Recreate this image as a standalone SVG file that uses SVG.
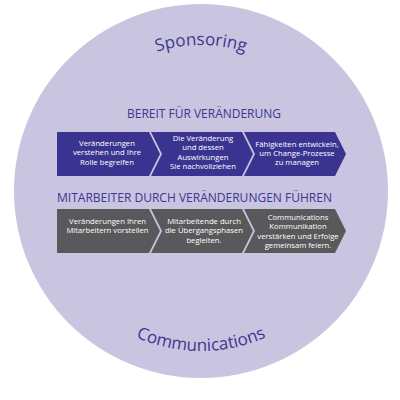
<svg xmlns="http://www.w3.org/2000/svg" width="400" height="400" viewBox="0 0 400 400">
<style>
.arc{font-family:"Open Sans","Noto Sans",sans-serif;font-size:17px;fill:#3c3790}
.ttl{font-family:"Open Sans","Noto Sans",sans-serif;font-size:12.5px;fill:#3c3790}
.lbl{font-family:"Open Sans","Noto Sans",sans-serif;font-size:7.7px;fill:#ffffff;text-anchor:middle}
.blue{fill:#3a3390}
.gray{fill:#59585b}
</style>
<defs>
<path id="topArc" d="M55,191 A146,146 0 0 1 347,191"/>
<path id="botArc" d="M41,191 A160,160 0 0 0 361,191"/>
</defs>
<circle cx="201" cy="191" r="187" fill="#c9c4df"/>
<text class="arc"><textPath href="#topArc" startOffset="50%" text-anchor="middle">Sponsoring</textPath></text>
<text class="arc"><textPath href="#botArc" startOffset="50%" text-anchor="middle">Communications</textPath></text>
<text class="ttl" x="204" y="118" text-anchor="middle" textLength="154" lengthAdjust="spacingAndGlyphs">BEREIT FÜR VERÄNDERUNG</text>
<text class="ttl" x="57" y="202" textLength="275" lengthAdjust="spacingAndGlyphs">MITARBEITER DURCH VERÄNDERUNGEN FÜHREN</text>
<g id="connectors"></g>
<g id="r1c1">
<polygon class="blue" points="57,132 149,132 160,154 149,176 57,176"/>
<text class="lbl"><tspan x="107" y="146">Veränderungen</tspan><tspan x="107" y="155.3">verstehen und Ihre</tspan><tspan x="107" y="164.6">Rolle begreifen</tspan></text>
</g>
<g id="r1c2">
<polygon class="blue" points="151,132 242,132 253,154 242,176 151,176 162,154"/>
<text class="lbl"><tspan x="203" y="141">Die Veränderung</tspan><tspan x="203" y="150.3">und dessen</tspan><tspan x="203" y="159.6">Auswirkungen</tspan><tspan x="203" y="168.9">Sie nachvollziehen</tspan></text>
</g>
<g id="r1c3">
<polygon class="blue" points="244,132 335,132 346,154 335,176 244,176 255,154"/>
<text class="lbl"><tspan x="297" y="146.7">Fähigkeiten entwickeln,</tspan><tspan x="297" y="156">um Change-Prozesse</tspan><tspan x="297" y="165.3">zu managen</tspan></text>
</g>
<g id="r2c1">
<polygon class="gray" points="57,209 149,209 160,231 149,253 57,253"/>
<text class="lbl"><tspan x="107.5" y="224">Veränderungen Ihren</tspan><tspan x="107.5" y="233.3">Mitarbeitern vorstellen</tspan></text>
</g>
<g id="r2c2">
<polygon class="gray" points="151,209 242,209 253,231 242,253 151,253 162,231"/>
<text class="lbl"><tspan x="204" y="224">Mitarbeitende durch</tspan><tspan x="204" y="233.3">die Übergangsphasen</tspan><tspan x="204" y="242.6">begleiten.</tspan></text>
</g>
<g id="r2c3">
<polygon class="gray" points="244,209 335,209 346,231 335,253 244,253 255,231"/>
<text class="lbl"><tspan x="298" y="220">Communications</tspan><tspan x="298" y="229.3">Kommunikation</tspan><tspan x="298" y="238.6">verstärken und Erfolge</tspan><tspan x="298" y="247.9">gemeinsam feiern.</tspan></text>
</g>
</svg>
